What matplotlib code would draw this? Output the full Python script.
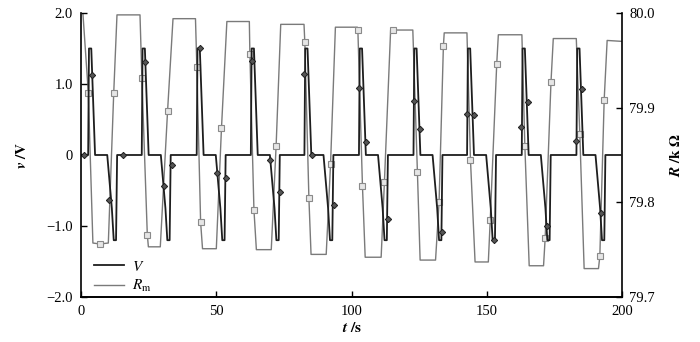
import numpy as np
import matplotlib.pyplot as plt

plt.rcParams['font.family'] = 'Liberation Serif'
plt.rcParams['mathtext.fontset'] = 'stix'

# applied voltage V: start of each positive pulse (s) and one pulse shape
rise_t = [2.8, 22.6, 42.9, 62.9, 82.7, 102.85, 123.0, 142.8, 163.0, 183.2]
pulse_dt = [-0.15, 0.15, 1.0, 2.4, 6.9, 8.6, 9.3, 10.15, 10.55]
pulse_v = [0.0, 1.5, 1.5, 0.0, 0.0, -0.75, -1.2, -1.2, 0.0]

# diamond markers on V
vm_t = [1.2, 3.9, 10.5, 15.6, 23.6, 30.6, 33.7, 43.8, 50.4, 53.4, 63.0, 69.9,
        73.5, 82.5, 85.2, 93.4, 102.8, 105.3, 113.4, 123.0, 125.2, 133.3,
        142.5, 145.2, 152.6, 162.7, 165.2, 172.3, 182.8, 185.0, 192.0]
vm_v = [0.0, 1.12, -0.63, 0.0, 1.31, -0.44, -0.14, 1.5, -0.25, -0.33, 1.32,
        -0.07, -0.52, 1.14, 0.0, -0.71, 0.95, 0.18, -0.9, 0.76, 0.37, -1.08,
        0.58, 0.56, -1.2, 0.39, 0.74, -1.0, 0.2, 0.93, -0.82]

# memristance R_m (kOhm): plateau levels and switching times
r_high = [80.0, 79.998, 79.994, 79.991, 79.988, 79.985, 79.982, 79.979,
          79.977, 79.973, 79.971]
r_low = [79.757, 79.753, 79.751, 79.750, 79.745, 79.742, 79.739, 79.737,
         79.733, 79.730]
fall_start = [0.7, 21.8, 42.3, 62.2, 82.4, 102.1, 122.6, 142.6, 162.9, 183.0]
fall_end = [4.4, 24.9, 44.9, 64.8, 85.0, 105.0, 125.3, 145.6, 165.6, 185.9]
rise_start = [10.1, 29.3, 50.0, 70.3, 90.6, 110.9, 131.0, 150.5, 170.9, 191.2]
rise_end = [13.3, 34.0, 53.9, 73.8, 94.0, 114.4, 134.2, 154.2, 174.5, 194.4]

# square markers on R_m
sq_t = [2.7, 7.0, 12.1, 22.5, 24.5, 32.0, 42.8, 44.2, 51.9, 62.4, 63.9, 72.1,
        82.7, 84.2, 92.2, 102.3, 104.0, 112.1, 115.1, 124.3, 132.3, 133.9,
        143.9, 151.2, 153.6, 164.0, 171.5, 173.65, 184.3, 191.7, 193.3]
sq_r = [79.916, 79.756, 79.916, 79.931, 79.766, 79.897, 79.943, 79.779,
        79.878, 79.957, 79.792, 79.860, 79.969, 79.805, 79.840, 79.982,
        79.817, 79.821, 79.982, 79.832, 79.800, 79.965, 79.845, 79.781,
        79.946, 79.859, 79.762, 79.927, 79.872, 79.743, 79.908]

# build V line
vt = [0.0]
vv = [0.0]
for r in rise_t:
    vt += [r + d for d in pulse_dt]
    vv += pulse_v
vt.append(200.0)
vv.append(0.0)

# build R line from knots plus sampled squares
rt = list(sq_t)
rr = list(sq_r)
for k in range(len(fall_start)):
    rt += [fall_start[k], fall_end[k], rise_start[k], rise_end[k]]
    rr += [r_high[k], r_low[k], r_low[k], r_high[k + 1]]
rt.append(200.0)
rr.append(r_high[-1] - 0.001)
order = np.argsort(rt)
rt = np.array(rt)[order]
rr = np.array(rr)[order]

fig = plt.figure(figsize=(7, 3.42), dpi=100)
ax = fig.add_axes([0.1157, 0.1316, 0.7733, 0.8304])
ax2 = ax.twinx()
ax.set_zorder(ax2.get_zorder() + 1)
ax.patch.set_visible(False)

lr, = ax2.plot(rt, rr, color='#7a7a7a', lw=1.0)
ax2.plot(sq_t, sq_r, ls='none', marker='s', ms=4, mfc='#e6e6e6', mec='#8a8a8a', mew=0.8)
lv, = ax.plot(vt, vv, color='#1e1e1e', lw=1.3)
ax.plot(vm_t, vm_v, ls='none', marker='D', ms=3.2, mfc='#555555', mec='#1e1e1e', mew=0.7)

ax.set_xlim(0, 200)
ax.set_ylim(-2.0, 2.0)
ax2.set_ylim(79.7, 80.0)

ax.set_xticks([0, 50, 100, 150, 200])
ax.set_yticks([-2, -1, 0, 1, 2])
ax.set_yticklabels(['\u22122.0', '\u22121.0', '0', '1.0', '2.0'])
ax2.set_yticks([79.7, 79.8, 79.9, 80.0])
ax2.set_yticklabels(['79.7', '79.8', '79.9', '80.0'])

for a in (ax, ax2):
    a.spines['top'].set_visible(False)
    a.tick_params(direction='in', length=4, width=1, labelsize=10.5)
    for s in a.spines.values():
        s.set_linewidth(1.2)
ax.spines['right'].set_visible(False)
ax2.spines['left'].set_visible(False)
ax.tick_params(axis='x', pad=6)
ax.tick_params(axis='y', pad=6)
ax2.tick_params(axis='y', pad=5)

ax.set_xlabel(r'$\mathbfit{t}$ $\mathbf{/s}$', fontsize=11, labelpad=2)
ax.set_ylabel(r'$\mathbfit{v}$ $\mathbf{/V}$', fontsize=11, labelpad=12)
ax2.set_ylabel(r'$\mathbfit{R}$ $\mathbf{/k\ \Omega}$', fontsize=11, rotation=90, labelpad=10)

ax.legend([lv, lr], [r'$\mathit{V}$', r'$\mathit{R}_\mathrm{m}$'], loc='lower left',
          bbox_to_anchor=(0.012, -0.012), frameon=False, fontsize=11,
          handlelength=2.0, labelspacing=0.3, handletextpad=0.5,
          borderaxespad=0.0)

fig.savefig('out.png', dpi=100)
